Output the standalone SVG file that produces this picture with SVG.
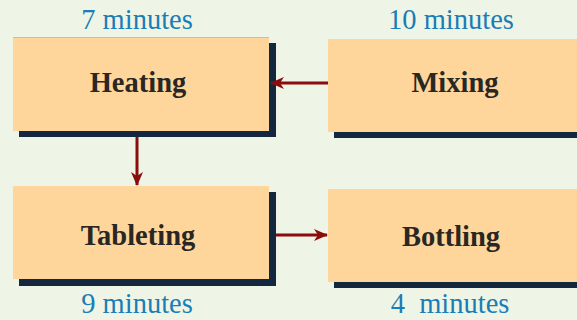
<svg xmlns="http://www.w3.org/2000/svg" width="577" height="320" viewBox="0 0 577 320">
<defs>
<style>
.box{fill:#fed69c}
.sh{fill:#13283f}
.lbl{font-family:"Liberation Serif",serif;font-weight:bold;font-size:28.5px;fill:#2a2622;text-anchor:middle}
.min{font-family:"Liberation Serif",serif;font-size:28.5px;fill:#1a7db6;text-anchor:middle}
.con{stroke:#8b0c0c;stroke-width:3;fill:none}
</style>
<marker id="ah" viewBox="0 0 14 14" refX="13" refY="7" markerWidth="14" markerHeight="14" markerUnits="userSpaceOnUse" orient="auto">
<path d="M0,1 L14,7 L0,13 L4,7 Z" fill="#8b0c0c"/>
</marker>
</defs>
<rect width="577" height="320" fill="#eff5e6"/>
<g id="heating">
<rect class="sh" x="19" y="43" width="257" height="94"/>
<rect class="box" x="13" y="37" width="256" height="94"/>
<line x1="13" y1="37.5" x2="269" y2="37.5" stroke="#9ccbe0" stroke-width="1"/>
<text class="lbl" x="138" y="92">Heating</text>
<text class="min" x="137" y="29">7 minutes</text>
</g>
<g id="mixing">
<rect class="sh" x="334" y="45" width="250" height="93"/>
<rect class="box" x="328" y="39" width="256" height="93"/>
<text class="lbl" x="455" y="92">Mixing</text>
<text class="min" x="451" y="29">10 minutes</text>
</g>
<g id="tableting">
<rect class="sh" x="19" y="192" width="257" height="94"/>
<rect class="box" x="13" y="186" width="256" height="93"/>
<text class="lbl" x="138" y="245">Tableting</text>
<text class="min" x="137" y="313">9 minutes</text>
</g>
<g id="bottling">
<rect class="sh" x="334" y="195" width="250" height="93"/>
<rect class="box" x="328" y="189" width="256" height="93"/>
<text class="lbl" x="451" y="246">Bottling</text>
<text class="min" x="450" y="313" xml:space="preserve">4  minutes</text>
</g>
<g id="connectors">
<line class="con" x1="328" y1="83" x2="271" y2="83" marker-end="url(#ah)"/>
<line class="con" x1="137" y1="137" x2="137" y2="185" marker-end="url(#ah)"/>
<line class="con" x1="276" y1="235" x2="327" y2="235" marker-end="url(#ah)"/>
</g>
</svg>
